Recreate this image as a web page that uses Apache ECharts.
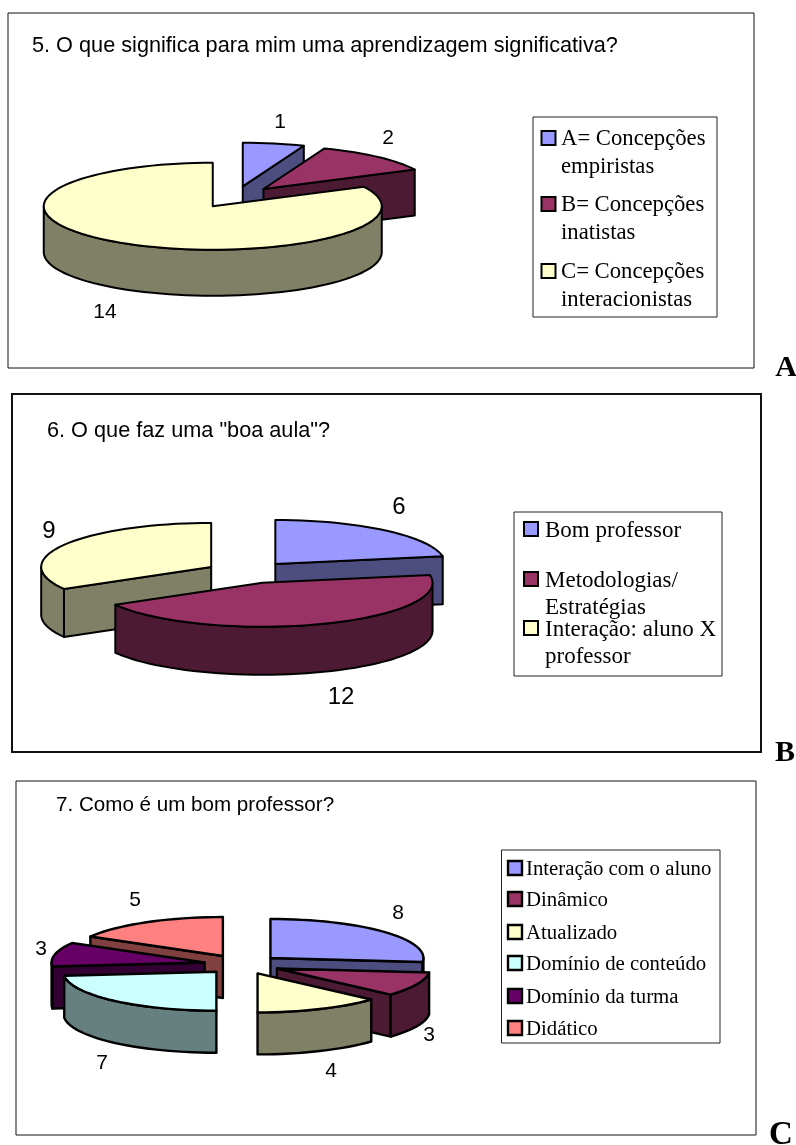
<!DOCTYPE html>
<html>
<head>
<meta charset="utf-8">
<script src="https://cdn.jsdelivr.net/npm/echarts@6/dist/echarts.min.js"></script>
<style>
  html, body { margin: 0; padding: 0; background: #fff; }
  #main { width: 796px; height: 1145px; }
</style>
</head>
<body>
<div id="main"></div>
<script>
const categoriesA = ['A= Concepções\nempiristas', 'B= Concepções\ninatistas', 'C= Concepções\ninteracionistas']
const valuesA = [1, 2, 14]
const categoriesB = ['Bom professor', 'Metodologias/\nEstratégias', 'Interação: aluno X\nprofessor']
const valuesB = [6, 12, 9]
const categoriesC = ['Interação com o aluno', 'Dinâmico', 'Atualizado', 'Domínio de conteúdo', 'Domínio da turma', 'Didático']
const valuesC = [8, 3, 4, 7, 3, 5]

const topColors = ['#9999FF', '#993366', '#FFFFCC', '#CCFFFF', '#660066', '#FF8080']
const sideColors = ['#4D4D80', '#4D1A33', '#808066', '#668080', '#330033', '#804040']

const SERIF = '"Liberation Serif", serif'
const SANS = '"Liberation Sans", Arial, sans-serif'
const EXPLODE = 0.25

const charts = [
  {
    title: '5. O que significa para mim uma aprendizagem significativa?',
    letter: 'A', letterPos: [786, 368], letterSize: 30,
    categories: categoriesA, values: valuesA,
    frame: [8, 13, 746, 355], frameWidth: 1,
    titlePos: [32, 35], titleSize: 21.7,
    cx: 235, cy: 197, rx: 169, ry: 43.5, depth: 46, line: 2,
    labelPos: [[280, 122], [388, 138], [105, 312]], labelSize: 21,
    legendBox: [533, 117, 184, 200], swatchX: 541.5, textX: 561, legendSize: 22.7,
    rows: [138, 204, 271], lineGap: 27.5
  },
  {
    title: '6. O que faz uma "boa aula"?',
    letter: 'B', letterPos: [785, 753], letterSize: 30,
    categories: categoriesB, values: valuesB,
    frame: [12, 394, 749, 358], frameWidth: 2,
    titlePos: [47, 420], titleSize: 21.7,
    cx: 248, cy: 572.4, rx: 170, ry: 44, depth: 48, line: 2,
    labelPos: [[399, 507], [341, 697], [49, 531]], labelSize: 24,
    legendBox: [514, 512, 208, 164], swatchX: 524, textX: 545, legendSize: 23,
    rows: [529, 579, 628], lineGap: 27.5
  },
  {
    title: '7. Como é um bom professor?',
    letter: 'C', letterPos: [781, 1135], letterSize: 33,
    categories: categoriesC, values: valuesC,
    frame: [16, 781, 740, 354], frameWidth: 1,
    titlePos: [56, 795], titleSize: 20.6,
    cx: 242, cy: 964.5, rx: 153, ry: 39, depth: 42, line: 2.4,
    labelPos: [[398, 913], [429, 1035], [331, 1071], [102, 1063], [41, 949], [135, 900]], labelSize: 21,
    legendBox: [501.5, 850, 218.5, 193], swatchX: 508, textX: 526, legendSize: 20.8,
    rows: [868, 899, 932, 963, 996, 1028], lineGap: 27
  }
]

// back slices first, the picture has no depth sorting of its own
const sliceData = (chart) => {
  const total = chart.values.reduce((a, b) => a + b, 0)
  let angle = 0
  const slices = chart.values.map((v, i) => {
    const start = angle
    angle += v / total * 360
    return { name: chart.categories[i], value: [v, start, angle, i] }
  })
  return slices.sort((a, b) => {
    const midA = (a.value[1] + a.value[2]) / 2 * Math.PI / 180
    const midB = (b.value[1] + b.value[2]) / 2 * Math.PI / 180
    return Math.cos(midB) - Math.cos(midA)
  })
}

const renderSlice = (params, api) => {
  const chart = charts[params.seriesIndex]
  const value = api.value(0)
  const start = api.value(1)
  const end = api.value(2)
  const index = api.value(3)
  const rad = (d) => d * Math.PI / 180
  const mid = rad((start + end) / 2)
  const ox = chart.cx + EXPLODE * chart.rx * Math.sin(mid)
  const oy = chart.cy - EXPLODE * chart.ry * Math.cos(mid)
  const rim = (deg) => [ox + chart.rx * Math.sin(rad(deg)), oy - chart.ry * Math.cos(rad(deg))]
  const down = (p) => [p[0], p[1] + chart.depth]
  const arc = (from, to) => {
    const pts = []
    const steps = Math.max(2, Math.ceil((to - from) / 3))
    for (let i = 0; i <= steps; i++) pts.push(rim(from + (to - from) * i / steps))
    return pts
  }
  const face = (points, fill) => ({
    type: 'polygon',
    shape: { points: points },
    style: { fill: fill, stroke: '#000', lineWidth: chart.line, lineJoin: 'round' }
  })
  const children = []
  const apex = [ox, oy]
  if (Math.sin(rad(start)) < -1e-6) {
    children.push(face([apex, rim(start), down(rim(start)), down(apex)], sideColors[index]))
  }
  if (Math.sin(rad(end)) > 1e-6) {
    children.push(face([apex, rim(end), down(rim(end)), down(apex)], sideColors[index]))
  }
  const wallFrom = Math.max(start, 90)
  const wallTo = Math.min(end, 270)
  if (wallTo > wallFrom) {
    const top = arc(wallFrom, wallTo)
    children.push(face(top.concat(top.map(down).reverse()), sideColors[index]))
  }
  children.push(face([apex].concat(arc(start, end)), topColors[index]))
  children.push({
    type: 'text',
    style: {
      text: String(value),
      x: chart.labelPos[index][0],
      y: chart.labelPos[index][1],
      align: 'center',
      verticalAlign: 'middle',
      fontFamily: SANS,
      fontSize: chart.labelSize,
      fill: '#000'
    }
  })
  return { type: 'group', children: children }
}

// legend boxes wrap by hand and keep the swatch on the first line
const legendGraphics = (chart) => {
  const box = chart.legendBox
  const items = [{
    type: 'rect',
    shape: { x: box[0], y: box[1], width: box[2], height: box[3] },
    style: { fill: '#fff', stroke: '#222', lineWidth: 1 }
  }]
  chart.categories.forEach((name, i) => {
    const y = chart.rows[i]
    items.push({
      type: 'rect',
      shape: { x: chart.swatchX, y: y - 7, width: 14, height: 14 },
      style: { fill: topColors[i], stroke: '#000', lineWidth: chart.line }
    })
    name.split('\n').forEach((line, j) => {
      items.push({
        type: 'text',
        style: {
          text: line,
          x: chart.textX,
          y: y + 1.5 + j * chart.lineGap,
          verticalAlign: 'middle',
          fontFamily: SERIF,
          fontSize: chart.legendSize,
          fill: '#000'
        }
      })
    })
  })
  return items
}

const myChart = echarts.init(document.getElementById('main'), null, { renderer: 'canvas' })

const graphics = []
charts.forEach((chart) => {
  const f = chart.frame
  graphics.push({
    type: 'rect',
    shape: { x: f[0], y: f[1], width: f[2], height: f[3] },
    style: { fill: 'none', stroke: '#111', lineWidth: chart.frameWidth }
  })
  graphics.push.apply(graphics, legendGraphics(chart))
  graphics.push({
    type: 'text',
    style: {
      text: chart.letter,
      x: chart.letterPos[0],
      y: chart.letterPos[1],
      align: 'center',
      verticalAlign: 'middle',
      fontFamily: SERIF,
      fontWeight: 'bold',
      fontSize: chart.letterSize,
      fill: '#000'
    }
  })
})

myChart.setOption({
  animation: false,
  backgroundColor: '#fff',
  title: charts.map((chart) => ({
    text: chart.title,
    left: chart.titlePos[0],
    top: chart.titlePos[1],
    padding: 0,
    textStyle: { fontFamily: SANS, fontSize: chart.titleSize, fontWeight: 'normal', color: '#000' }
  })),
  graphic: graphics,
  series: charts.map((chart) => ({
    type: 'custom',
    coordinateSystem: 'none',
    silent: true,
    clip: false,
    renderItem: renderSlice,
    data: sliceData(chart)
  }))
})
</script>
</body>
</html>
